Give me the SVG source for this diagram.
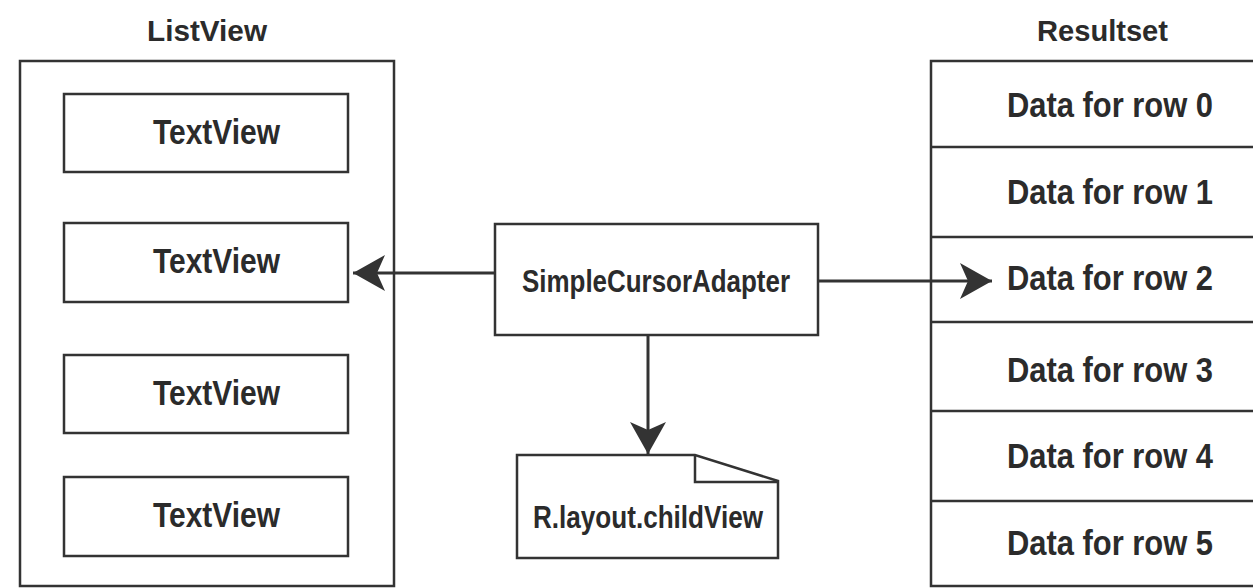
<svg xmlns="http://www.w3.org/2000/svg" width="1253" height="588" viewBox="0 0 1253 588">
<style>
.box{fill:#fff;stroke:#333;stroke-width:2.5}
.ln{fill:none;stroke:#333;stroke-width:2.5}
.cn{fill:none;stroke:#333;stroke-width:3}
.t{font-family:"Liberation Sans",Arial,sans-serif;fill:#2b2b2b;font-weight:bold}
.big{font-size:35px}
.ttl{font-size:29px}
.mid{font-size:31px}
</style>
<defs>
<marker id="ah" markerUnits="userSpaceOnUse" markerWidth="34" markerHeight="38" refX="32" refY="18" orient="auto">
<path d="M0,0 L32,18 L0,36 L8,18 Z" fill="#333"/>
</marker>
</defs>
<rect width="1253" height="588" fill="#fff"/>

<g id="listview">
<text class="t ttl" x="147" y="41" textLength="120" lengthAdjust="spacingAndGlyphs">ListView</text>
<rect class="box" x="20" y="61" width="374" height="525"/>
</g>
<g id="textview1"><rect class="box" x="64" y="94" width="284" height="78"/><text class="t big" x="153" y="144" textLength="127" lengthAdjust="spacingAndGlyphs">TextView</text></g>
<g id="textview2"><rect class="box" x="64" y="223" width="284" height="79"/><text class="t big" x="153" y="273" textLength="127" lengthAdjust="spacingAndGlyphs">TextView</text></g>
<g id="textview3"><rect class="box" x="64" y="355" width="284" height="78"/><text class="t big" x="153" y="405" textLength="127" lengthAdjust="spacingAndGlyphs">TextView</text></g>
<g id="textview4"><rect class="box" x="64" y="477" width="284" height="79"/><text class="t big" x="153" y="527" textLength="127" lengthAdjust="spacingAndGlyphs">TextView</text></g>

<g id="adapter">
<rect class="box" x="495" y="224" width="323" height="111"/>
<text class="t mid" x="522" y="292" textLength="268" lengthAdjust="spacingAndGlyphs">SimpleCursorAdapter</text>
</g>

<g id="childview">
<path class="box" d="M517,455 L695,455 L778,481 L778,558 L517,558 Z"/>
<path class="ln" d="M695,455 L695,482 L778,482"/>
<text class="t mid" x="533" y="528" textLength="230" lengthAdjust="spacingAndGlyphs">R.layout.childView</text>
</g>

<g id="resultset">
<text class="t ttl" x="1037" y="41" textLength="131" lengthAdjust="spacingAndGlyphs">Resultset</text>
<rect class="box" x="931" y="61" width="340" height="525"/>
<path class="ln" d="M931,147 H1260 M931,237 H1260 M931,322 H1260 M931,411 H1260 M931,501 H1260"/>
</g>
<g id="row0"><text class="t big" x="1007" y="117" textLength="206" lengthAdjust="spacingAndGlyphs">Data for row 0</text></g>
<g id="row1"><text class="t big" x="1007" y="204" textLength="206" lengthAdjust="spacingAndGlyphs">Data for row 1</text></g>
<g id="row2"><text class="t big" x="1007" y="290" textLength="206" lengthAdjust="spacingAndGlyphs">Data for row 2</text></g>
<g id="row3"><text class="t big" x="1007" y="382" textLength="206" lengthAdjust="spacingAndGlyphs">Data for row 3</text></g>
<g id="row4"><text class="t big" x="1007" y="468" textLength="206" lengthAdjust="spacingAndGlyphs">Data for row 4</text></g>
<g id="row5"><text class="t big" x="1007" y="555" textLength="206" lengthAdjust="spacingAndGlyphs">Data for row 5</text></g>

<g id="connectors">
<line class="cn" x1="495" y1="273" x2="353" y2="273" marker-end="url(#ah)"/>
<line class="cn" x1="818" y1="281" x2="992" y2="281" stroke-width="3.5" marker-end="url(#ah)"/>
<line class="cn" x1="648" y1="335" x2="648" y2="454" marker-end="url(#ah)"/>
</g>
</svg>
